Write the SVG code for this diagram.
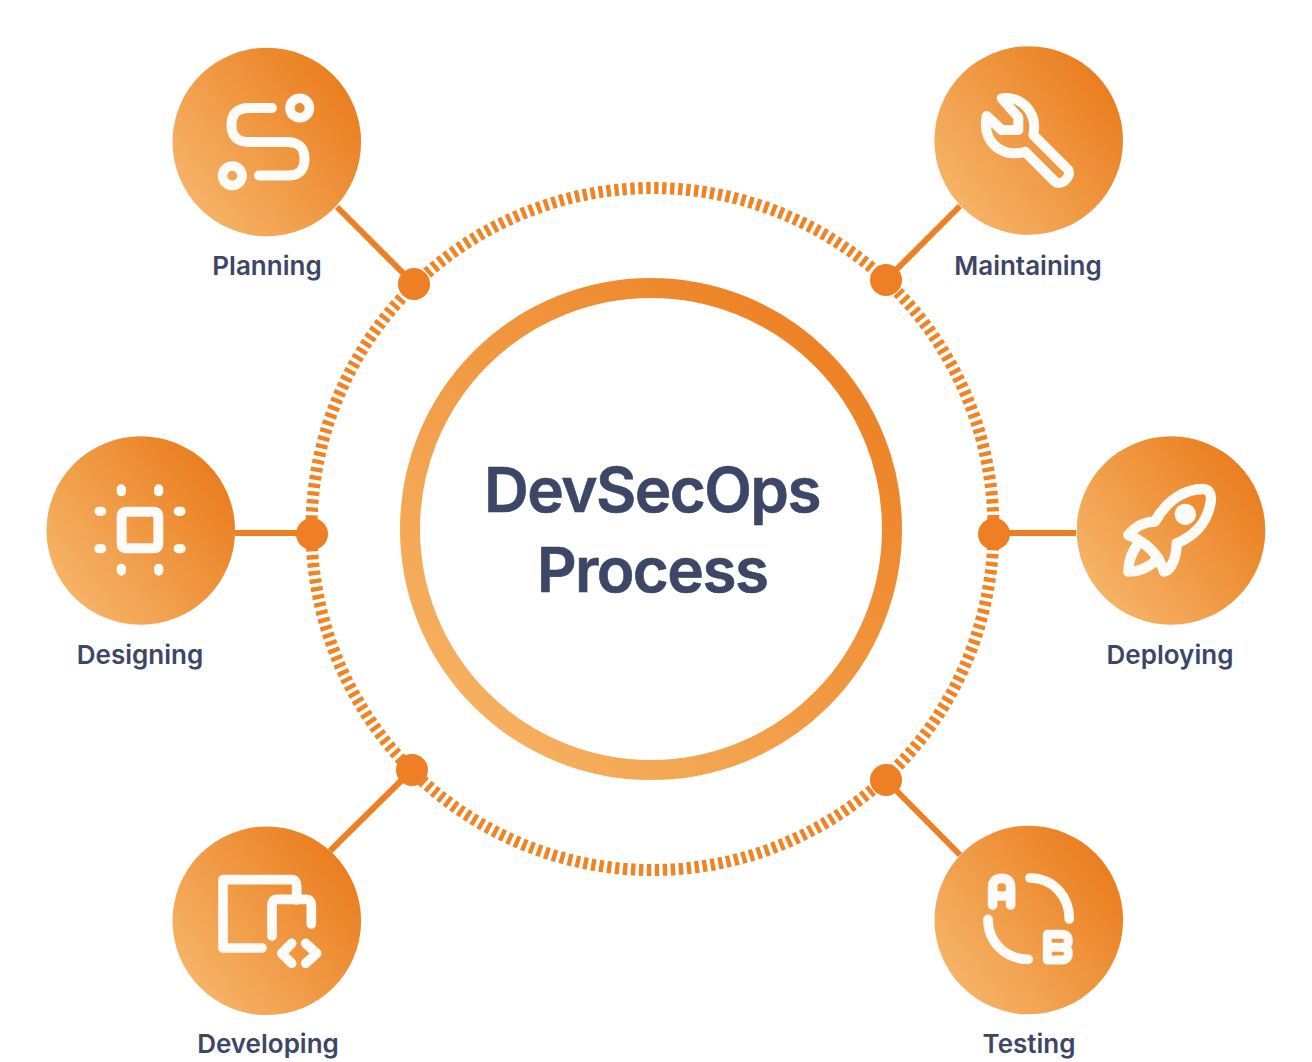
<svg xmlns="http://www.w3.org/2000/svg" width="1312" height="1062" viewBox="0 0 1312 1062">
<defs>
<linearGradient id="g" x1="0.08" y1="0.82" x2="0.92" y2="0.18"><stop offset="0" stop-color="#f6b468"/><stop offset="1" stop-color="#ea7d1e"/></linearGradient>
<linearGradient id="rg" gradientUnits="userSpaceOnUse" x1="470" y1="710" x2="830" y2="350"><stop offset="0" stop-color="#f6b05f"/><stop offset="1" stop-color="#ed8225"/></linearGradient>
</defs>
<style>
.bg{fill:url(#g)}
.ic{fill:none;stroke:#fdfbf8;stroke-linecap:round;stroke-linejoin:round}
.lb{font-family:Inter,"Liberation Sans",sans-serif;font-weight:600;font-size:26px;fill:#3d4666;text-anchor:middle}
.tt{font-family:Inter,"Liberation Sans",sans-serif;font-weight:600;font-size:62px;fill:#3d4666;stroke:#3d4666;stroke-width:.6px;text-anchor:middle;letter-spacing:-1.6px}
.c{stroke:#ee7f24;stroke-width:6;fill:none}
.d{fill:#ee7f24}
</style>
<rect width="1312" height="1062" fill="#fff"/>
<g id="connectors">
<circle cx="652.500" cy="529" r="341" fill="none" stroke="#f08425" stroke-width="12" stroke-dasharray="4.400 3.595" stroke-dashoffset="-1"/>
<path class="c" d="M337 207L414 284M960 206L886 280M235 533H312M994 533H1076M330 851L412 770M886 780L960 855"/>
<circle class="d" cx="414" cy="284" r="16"/><circle class="d" cx="886" cy="280" r="16"/><circle class="d" cx="312" cy="534" r="16"/><circle class="d" cx="994" cy="534" r="16"/><circle class="d" cx="412" cy="770" r="16"/><circle class="d" cx="886" cy="780" r="16"/>
</g>
<g id="center">
<circle cx="651" cy="529" r="241" fill="#fff" stroke="url(#rg)" stroke-width="20"/>
<text class="tt" x="652" y="512">DevSecOps</text>
<text class="tt" x="652" y="592">Process</text>
</g>
<g id="planning">
<circle class="bg" cx="266.800" cy="142" r="94.300"/>
<path class="ic" stroke-width="10" d="M272 108H249Q231.500 108 231.500 125T249 142H287Q304.500 142 304.500 159T287 175.500H259"/>
<circle class="ic" stroke-width="9.500" cx="299.700" cy="108" r="9.800"/>
<circle class="ic" stroke-width="9.500" cx="232.300" cy="175.700" r="9.800"/>
<text class="lb" x="267" y="275">Planning</text>
</g>
<g id="maintaining">
<circle class="bg" cx="1028.700" cy="140.500" r="94.300"/>
<path class="ic" transform="translate(870 30) scale(.3333)" stroke-width="30" d="M395 205C450 195 505 245 490 315L595 420C605 440 575 470 555 455L465 365C400 385 335 340 350 258L395 300H445V262Z"/>
<text class="lb" x="1028" y="274.500">Maintaining</text>
</g>
<g id="designing">
<circle class="bg" cx="140.800" cy="530.500" r="94.300"/>
<g class="ic" transform="translate(30 420) scale(.3333)" stroke-width="30">
<rect x="275" y="275" width="110" height="110" rx="12"/>
<path stroke-width="28" d="M274 207V215M386 207V215M274 445V453M386 445V453M207 274H215M445 274H453M207 386H215M445 386H453"/>
</g>
<text class="lb" x="140" y="663.500">Designing</text>
</g>
<g id="deploying">
<circle class="bg" cx="1171" cy="530.500" r="94.300"/>
<g class="ic" transform="translate(960 420) scale(.3333)" stroke-width="31">
<path d="M505 345C530 315 555 305 585 305C620 240 675 207 730 207Q755 210 753 240C745 300 710 345 650 370C650 410 635 450 612 455Q590 380 505 345Z"/>
<path d="M535 370C512 400 505 430 505 455C530 455 565 445 595 415"/>
<circle cx="676" cy="283" r="32" fill="#fdfbf8" stroke="none"/>
</g>
<text class="lb" x="1170" y="663.500">Deploying</text>
</g>
<g id="developing">
<circle class="bg" cx="266.800" cy="920.800" r="94.300"/>
<g class="ic" transform="translate(160 750) scale(.3333)" stroke-width="29">
<path d="M306 594H189V389H395Q410 389 410 410V450"/>
<path d="M336 558V465Q336 448 352 448H438Q454 448 454 465V522"/>
<path d="M395 580L365 610L395 640M437 580L470 610L437 640"/>
</g>
<text class="lb" x="268" y="1053">Developing</text>
</g>
<g id="testing">
<circle class="bg" cx="1028.800" cy="920" r="94.300"/>
<g class="ic" transform="translate(860 750) scale(.3333)" stroke-width="29">
<path d="M398 465V412Q398 385 425 385Q452 385 452 412V465M398 438H452"/>
<path d="M510 384C580 384 628 440 628 507M384 508C384 580 440 628 505 628"/>
<path stroke-width="27" d="M562 553H605Q625 553 625 572Q625 592 605 592H562M605 592Q625 592 625 610Q625 630 605 630H562V553"/>
</g>
<text class="lb" x="1029" y="1053">Testing</text>
</g>
</svg>
